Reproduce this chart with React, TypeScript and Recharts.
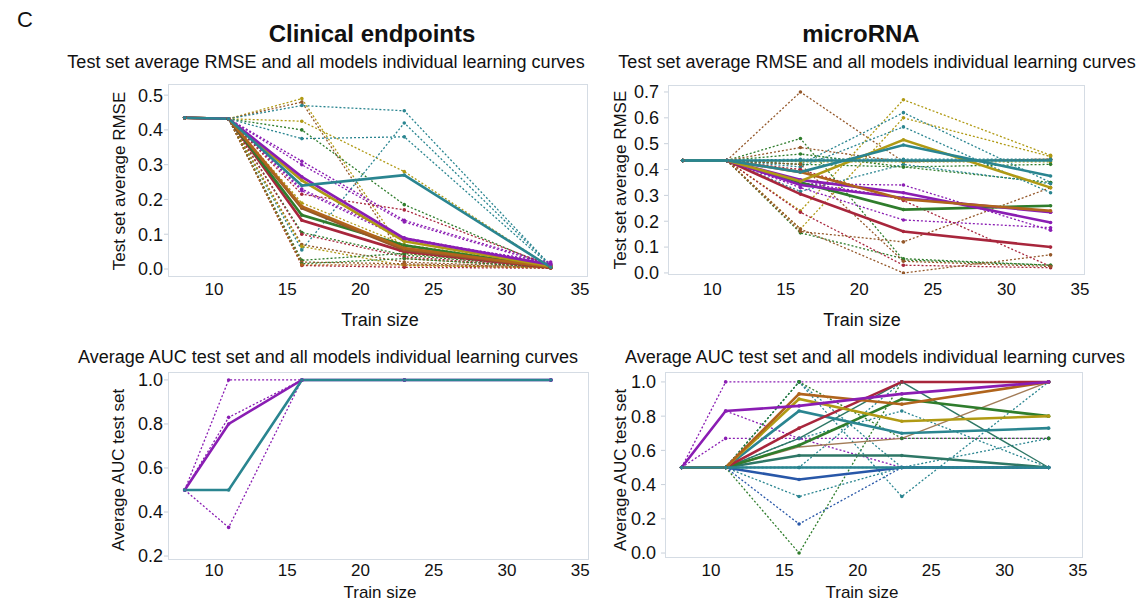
import { LineChart, Line, XAxis, YAxis } from 'recharts';

const trainSizes = [8, 11, 16, 23, 33];
const xTicks = [10, 15, 20, 25, 30, 35];

const clinicalRmseTicks = [0, 0.1, 0.2, 0.3, 0.4, 0.5];
const mirnaRmseTicks = [0, 0.1, 0.2, 0.3, 0.4, 0.5, 0.6, 0.7];
const clinicalAucTicks = [0.2, 0.4, 0.6, 0.8, 1.0];
const mirnaAucTicks = [0, 0.2, 0.4, 0.6, 0.8, 1.0];

// [model family, value at each train size]
type Curve = [string, number[]];

// clinical endpoints, RMSE
const clinicalRmseMeans: Curve[] = [
  ['red', [0.435, 0.432, 0.14, 0.05, 0.004]],
  ['green', [0.435, 0.432, 0.155, 0.068, 0.005]],
  ['brown', [0.435, 0.432, 0.175, 0.055, 0.005]],
  ['orange', [0.435, 0.432, 0.18, 0.06, 0.006]],
  ['gold', [0.435, 0.432, 0.255, 0.08, 0.008]],
  ['purple', [0.435, 0.432, 0.265, 0.088, 0.012]],
  ['teal', [0.435, 0.432, 0.24, 0.27, 0.005]],
];
const clinicalRmseModels: Curve[] = [
  ['gold', [0.435, 0.432, 0.49, 0.045, 0.005]],
  ['brown', [0.435, 0.432, 0.48, 0.03, 0.005]],
  ['teal', [0.435, 0.432, 0.47, 0.455, 0.01]],
  ['gold', [0.435, 0.432, 0.425, 0.28, 0.005]],
  ['green', [0.435, 0.432, 0.4, 0.185, 0.005]],
  ['teal', [0.435, 0.432, 0.375, 0.38, 0.008]],
  ['teal', [0.435, 0.432, 0.055, 0.42, 0.01]],
  ['purple', [0.435, 0.432, 0.31, 0.14, 0.015]],
  ['purple', [0.435, 0.432, 0.3, 0.135, 0.012]],
  ['purple', [0.435, 0.432, 0.23, 0.09, 0.015]],
  ['purple', [0.435, 0.432, 0.225, 0.085, 0.02]],
  ['red', [0.435, 0.432, 0.215, 0.17, 0.01]],
  ['gold', [0.435, 0.432, 0.19, 0.07, 0.01]],
  ['green', [0.435, 0.432, 0.105, 0.04, 0.005]],
  ['red', [0.435, 0.432, 0.1, 0.035, 0.005]],
  ['brown', [0.435, 0.432, 0.07, 0.02, 0.005]],
  ['gold', [0.435, 0.432, 0.065, 0.01, 0.003]],
  ['green', [0.435, 0.432, 0.025, 0.045, 0.005]],
  ['brown', [0.435, 0.432, 0.02, 0.015, 0.005]],
  ['red', [0.435, 0.432, 0.01, 0.005, 0.002]],
  ['green', [0.435, 0.432, 0.015, 0.03, 0.004]],
  ['orange', [0.435, 0.432, 0.012, 0.012, 0.003]],
];

// microRNA, RMSE
const mirnaRmseMeans: Curve[] = [
  ['red', [0.435, 0.435, 0.305, 0.16, 0.1]],
  ['green', [0.435, 0.435, 0.35, 0.245, 0.26]],
  ['purple', [0.435, 0.435, 0.34, 0.29, 0.235]],
  ['purple', [0.435, 0.435, 0.36, 0.31, 0.195]],
  ['orange', [0.435, 0.435, 0.39, 0.285, 0.24]],
  ['gold', [0.435, 0.435, 0.355, 0.515, 0.33]],
  ['teal', [0.435, 0.435, 0.39, 0.495, 0.375]],
  ['teal', [0.435, 0.435, 0.435, 0.435, 0.435]],
];
const mirnaRmseModels: Curve[] = [
  ['brown', [0.435, 0.435, 0.7, 0.43, 0.44]],
  ['gold', [0.435, 0.435, 0.24, 0.67, 0.455]],
  ['teal', [0.435, 0.435, 0.42, 0.62, 0.35]],
  ['teal', [0.435, 0.435, 0.41, 0.565, 0.31]],
  ['gold', [0.435, 0.435, 0.17, 0.6, 0.45]],
  ['green', [0.435, 0.435, 0.52, 0.05, 0.03]],
  ['green', [0.435, 0.435, 0.46, 0.41, 0.35]],
  ['brown', [0.435, 0.435, 0.485, 0.43, 0.44]],
  ['red', [0.435, 0.435, 0.235, 0.03, 0.02]],
  ['green', [0.435, 0.435, 0.155, 0.055, 0.03]],
  ['brown', [0.435, 0.435, 0.16, 0.12, 0.33]],
  ['purple', [0.435, 0.435, 0.345, 0.34, 0.165]],
  ['purple', [0.435, 0.435, 0.33, 0.205, 0.175]],
  ['brown', [0.435, 0.435, 0.17, 0.0, 0.07]],
  ['teal', [0.435, 0.435, 0.315, 0.42, 0.345]],
  ['gold', [0.435, 0.435, 0.43, 0.43, 0.43]],
  ['teal', [0.435, 0.435, 0.44, 0.44, 0.44]],
  ['green', [0.435, 0.435, 0.42, 0.41, 0.42]],
  ['red', [0.435, 0.435, 0.4, 0.28, 0.025]],
  ['brown', [0.435, 0.435, 0.42, 0.045, 0.025]],
  ['purple', [0.435, 0.435, 0.35, 0.29, 0.235]],
];

// clinical endpoints, AUC
const clinicalAucMeans: Curve[] = [
  ['purple', [0.5, 0.8, 1.0, 1.0, 1.0]],
  ['teal', [0.5, 0.5, 1.0, 1.0, 1.0]],
];
const clinicalAucModels: Curve[] = [
  ['purple', [0.5, 1.0, 1.0, 1.0, 1.0]],
  ['purple', [0.5, 0.83, 1.0, 1.0, 1.0]],
  ['purple', [0.5, 0.33, 1.0, 1.0, 1.0]],
];

// microRNA, AUC
const mirnaAucMeans: Curve[] = [
  ['blue', [0.5, 0.5, 0.43, 0.5, 0.5]],
  ['sea', [0.5, 0.5, 0.57, 0.57, 0.5]],
  ['green', [0.5, 0.5, 0.63, 0.9, 0.8]],
  ['teal', [0.5, 0.5, 0.83, 0.7, 0.73]],
  ['red', [0.5, 0.5, 0.73, 1.0, 1.0]],
  ['gold', [0.5, 0.5, 0.9, 0.77, 0.8]],
  ['orange', [0.5, 0.5, 0.93, 0.87, 1.0]],
  ['purple', [0.5, 0.83, 0.86, 0.93, 1.0]],
  ['teal', [0.5, 0.5, 0.5, 0.5, 0.5]],
];
const mirnaAucThin: Curve[] = [
  ['sea', [0.5, 0.5, 0.67, 1.0, 0.5]],
  ['tan', [0.5, 0.5, 0.62, 0.67, 1.0]],
];
const mirnaAucModels: Curve[] = [
  ['purple', [0.5, 1.0, 1.0, 1.0, 1.0]],
  ['purple', [0.5, 0.67, 0.67, 0.67, 0.67]],
  ['purple', [0.5, 0.83, 0.67, 0.5, 0.5]],
  ['teal', [0.5, 0.5, 1.0, 0.5, 0.5]],
  ['green', [0.5, 0.5, 0.0, 1.0, 1.0]],
  ['blue', [0.5, 0.5, 0.17, 0.5, 0.5]],
  ['teal', [0.5, 0.5, 0.33, 0.5, 0.5]],
  ['teal', [0.5, 0.5, 0.5, 1.0, 1.0]],
  ['teal', [0.5, 0.5, 1.0, 0.33, 1.0]],
  ['teal', [0.5, 0.5, 0.67, 0.83, 0.5]],
  ['teal', [0.5, 0.5, 0.5, 0.5, 0.67]],
  ['green', [0.5, 0.5, 1.0, 0.67, 0.67]],
];

const COLORS: Record<string, string> = {
  teal: '#2a8590',
  purple: '#8a1db3',
  gold: '#b09a14',
  orange: '#b0641c',
  brown: '#94582a',
  green: '#2f7d2c',
  red: '#a8263c',
  blue: '#2857a8',
  sea: '#2e7766',
  tan: '#a27c58',
};

const FONT = '"Liberation Sans", Arial, sans-serif';
const FRAME = '#d5dce4';

const toPoints = (values: number[]) => trainSizes.map((size, i) => ({ size, v: values[i] }));

type PanelProps = {
  frame: [number, number, number, number];
  xDomain: [number, number];
  yDomain: [number, number];
  yTicks: number[];
  models: Curve[];
  means: Curve[];
  thin?: Curve[];
  xTickGap: number;
  yTickGap: number;
};

function Panel({ frame, xDomain, yDomain, yTicks, models, means, thin = [], xTickGap, yTickGap }: PanelProps) {
  const [left, top, w, h] = frame;
  const yw = 60;
  const xh = 45;
  return (
    <div style={{ position: 'absolute', left: left - yw, top: top - 10 }}>
      <LineChart width={w + yw + 10} height={h + 10 + xh} margin={{ top: 10, right: 10, bottom: 0, left: 0 }}>
        <XAxis
          dataKey="size"
          type="number"
          domain={xDomain}
          ticks={xTicks}
          interval={0}
          allowDataOverflow
          height={xh}
          axisLine={false}
          tickLine={false}
          tickSize={0}
          tickMargin={xTickGap}
          tick={{ fill: '#111', fontSize: 17, fontFamily: '"Liberation Sans Narrow", ' + FONT }}
        />
        <YAxis
          type="number"
          domain={yDomain}
          ticks={yTicks}
          interval={0}
          allowDataOverflow
          width={yw}
          axisLine={false}
          tickLine={{ stroke: '#c8d0da' }}
          tickSize={4}
          tickMargin={yTickGap}
          tickFormatter={(v: number) => v.toFixed(1)}
          tick={{ fill: '#111', fontSize: 18, fontFamily: FONT }}
        />
        {models.map(([key, values], i) => (
          <Line
            key={'m' + i}
            data={toPoints(values)}
            dataKey="v"
            type="linear"
            stroke={COLORS[key]}
            strokeWidth={1.3}
            strokeDasharray="2 2"
            dot={{ r: 1.8, fill: COLORS[key], strokeWidth: 0 }}
            isAnimationActive={false}
          />
        ))}
        {thin.map(([key, values], i) => (
          <Line
            key={'t' + i}
            data={toPoints(values)}
            dataKey="v"
            type="linear"
            stroke={COLORS[key]}
            strokeWidth={1.4}
            dot={false}
            isAnimationActive={false}
          />
        ))}
        {means.map(([key, values], i) => (
          <Line
            key={'s' + i}
            data={toPoints(values)}
            dataKey="v"
            type="linear"
            stroke={COLORS[key]}
            strokeWidth={2.6}
            dot={{ r: 1.8, fill: COLORS[key], strokeWidth: 0 }}
            isAnimationActive={false}
          />
        ))}
      </LineChart>
      <div
        style={{
          position: 'absolute',
          left: yw,
          top: 10,
          width: w,
          height: h,
          boxSizing: 'border-box',
          border: '1.5px solid ' + FRAME,
          pointerEvents: 'none',
        }}
      />
    </div>
  );
}

const Txt = ({ x, y, size, children, bold = false, rotate = false }: { x: number; y: number; size: number; children: string; bold?: boolean; rotate?: boolean }) => (
  <div
    style={{
      position: 'absolute',
      left: x,
      top: y,
      transform: 'translate(-50%, -50%)' + (rotate ? ' rotate(-90deg)' : ''),
      fontSize: size,
      fontWeight: bold ? 700 : 400,
      lineHeight: 1,
      whiteSpace: 'nowrap',
      color: '#111',
      fontFamily: FONT,
    }}
  >
    {children}
  </div>
);

export default function App() {
  return (
    <div style={{ position: 'absolute', left: 0, top: 0, width: 1141, height: 602, background: '#fff', overflow: 'hidden' }}>
      <Txt x={25} y={20} size={22}>C</Txt>
      <Txt x={372} y={34} size={24} bold>Clinical endpoints</Txt>
      <Txt x={861} y={34} size={24} bold>microRNA</Txt>
      <Txt x={326} y={62} size={18}>Test set average RMSE and all models individual learning curves</Txt>
      <Txt x={877} y={62} size={18}>Test set average RMSE and all models individual learning curves</Txt>
      <Txt x={328} y={357} size={18}>Average AUC test set and all models individual learning curves</Txt>
      <Txt x={875} y={357} size={18}>Average AUC test set and all models individual learning curves</Txt>

      <Txt x={119} y={181} size={17} rotate>Test set average RMSE</Txt>
      <Txt x={620} y={180} size={17} rotate>Test set average RMSE</Txt>
      <Txt x={118} y={470} size={17} rotate>Average AUC test set</Txt>
      <Txt x={620} y={470} size={17} rotate>Average AUC test set</Txt>

      <Txt x={380} y={320} size={18}>Train size</Txt>
      <Txt x={862} y={320} size={18}>Train size</Txt>
      <Txt x={380} y={592} size={17}>Train size</Txt>
      <Txt x={862} y={592} size={17}>Train size</Txt>

      <Panel frame={[168, 84, 420, 193]} xDomain={[6.86, 35.55]} yDomain={[-0.023, 0.532]} yTicks={clinicalRmseTicks} models={clinicalRmseModels} means={clinicalRmseMeans} xTickGap={6} yTickGap={1} />
      <Panel frame={[668, 85, 417, 190]} xDomain={[7.0, 35.34]} yDomain={[-0.008, 0.727]} yTicks={mirnaRmseTicks} models={mirnaRmseModels} means={mirnaRmseMeans} xTickGap={8} yTickGap={5} />
      <Panel frame={[168, 372, 421, 188]} xDomain={[6.86, 35.6]} yDomain={[0.182, 1.036]} yTicks={clinicalAucTicks} models={clinicalAucModels} means={clinicalAucMeans} xTickGap={4} yTickGap={1} />
      <Panel frame={[665, 372, 418, 186]} xDomain={[6.87, 35.34]} yDomain={[-0.029, 1.058]} yTicks={mirnaAucTicks} models={mirnaAucModels} means={mirnaAucMeans} thin={mirnaAucThin} xTickGap={6} yTickGap={5} />
    </div>
  );
}
